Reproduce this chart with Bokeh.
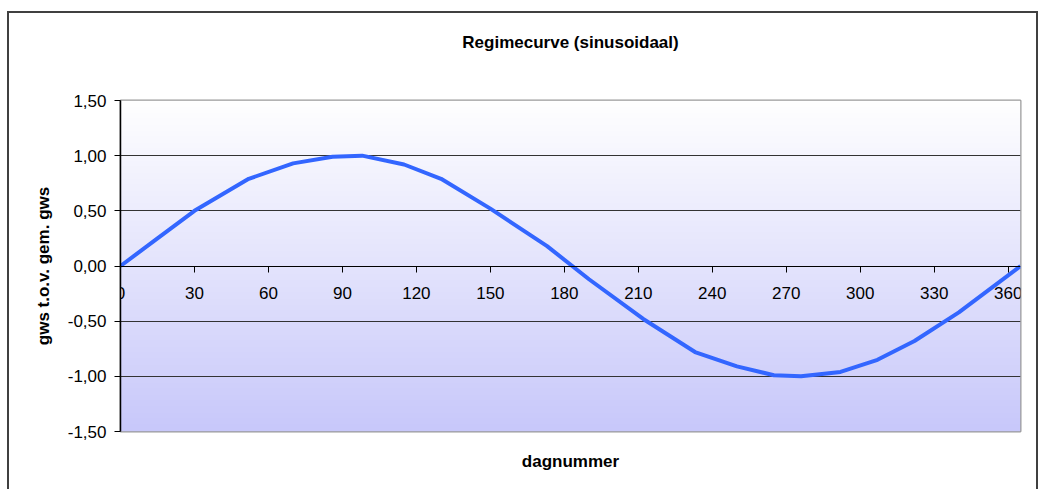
import numpy as np
from bokeh.plotting import figure
from bokeh.models import Range1d, FixedTicker, Title
from bokeh.embed import file_html
from bokeh.resources import INLINE

# ---- data ----
days = [0, 15, 30, 52, 70, 86, 98, 115, 130, 150, 173, 190, 212, 233, 250, 265, 276, 292, 307, 322, 340, 365]
gws = [0.00, 0.25, 0.50, 0.79, 0.93, 0.99, 1.00, 0.92, 0.79, 0.52, 0.18, -0.12, -0.48, -0.78, -0.91, -0.99, -1.00, -0.96, -0.85, -0.68, -0.42, 0.00]
x_ticks = [0, 30, 60, 90, 120, 150, 180, 210, 240, 270, 300, 330, 360]
y_ticks = [-1.5, -1.0, -0.5, 0.0, 0.5, 1.0, 1.5]
y_tick_labels = ["-1,50", "-1,00", "-0,50", "0,00", "0,50", "1,00", "1,50"]
title_text = "Regimecurve (sinusoidaal)"
x_label = "dagnummer"
y_label = "gws t.o.v. gem. gws"

FONT = "Liberation Sans"

p = figure(width=1027, height=476, output_backend="svg", toolbar_location=None,
           x_range=Range1d(0, 365), y_range=Range1d(-1.5, 1.5),
           min_border_left=111, min_border_right=20, min_border_top=87, min_border_bottom=60)
p.styles = {"border-left": "2px solid #404040", "border-top": "2px solid #404040",
            "border-right": "2px solid #404040", "box-sizing": "content-box"}
p.margin = (11, 0, 0, 7)
p.background_fill_color = "white"
p.border_fill_color = "white"
p.outline_line_color = "#9a9a9a"
p.outline_line_width = 2

# gradient background (white top -> lavender bottom)
n = 200
t = np.linspace(0, 1, n)  # 0 bottom, 1 top
top = np.array([255, 255, 255])
bot = np.array([200, 200, 250])
img = np.zeros((n, 1), dtype=np.uint32)
view = img.view(dtype=np.uint8).reshape((n, 1, 4))
for i in range(n):
    c = bot + (top - bot) * t[i]
    view[i, 0, 0] = int(c[0]); view[i, 0, 1] = int(c[1]); view[i, 0, 2] = int(c[2]); view[i, 0, 3] = 255
p.image_rgba(image=[img], x=0, y=-1.5, dw=365, dh=3, level="image")

# grid
p.xgrid.visible = False
p.ygrid.ticker = FixedTicker(ticks=[-1.0, -0.5, 0.5, 1.0])
p.ygrid.grid_line_color = "#333333"
p.ygrid.grid_line_width = 1

# line
p.line(days, gws, line_color="#3366ff", line_width=4, line_join="round")

# x axis at y = 0
p.xaxis.fixed_location = 0
p.xaxis.ticker = FixedTicker(ticks=x_ticks)
p.xaxis.minor_tick_line_color = None
p.xaxis.major_tick_in = 0
p.xaxis.major_tick_out = 6
p.xaxis.axis_line_color = "black"
p.xaxis.major_tick_line_color = "black"
p.xaxis.major_label_text_font = FONT
p.xaxis.major_label_text_font_size = "17px"
p.xaxis.major_label_text_color = "black"
p.xaxis.major_label_standoff = 15

# y axis
p.yaxis.ticker = FixedTicker(ticks=y_ticks)
p.yaxis.major_label_overrides = {v: s for v, s in zip(y_ticks, y_tick_labels)}
p.yaxis.minor_tick_line_color = None
p.yaxis.major_tick_in = 0
p.yaxis.major_tick_out = 6
p.yaxis.axis_line_color = "black"
p.yaxis.axis_line_width = 1.5
p.yaxis.major_tick_line_color = "black"
p.yaxis.major_label_text_font = FONT
p.yaxis.major_label_text_font_size = "17px"
p.yaxis.major_label_text_color = "black"
p.yaxis.major_label_standoff = 8
p.yaxis.axis_label = y_label
p.yaxis.axis_label_text_font = FONT
p.yaxis.axis_label_text_font_size = "17px"
p.yaxis.axis_label_text_font_style = "bold"
p.yaxis.axis_label_text_color = "black"
p.yaxis.axis_label_standoff = 12

# spacer between frame and title
p.add_layout(Title(text=" ", text_font_size="1px", standoff=46), "above")

# title
p.title.text = title_text
p.title.align = "center"
p.title.text_font = FONT
p.title.text_font_size = "17px"
p.title.text_font_style = "bold"
p.title.text_color = "black"
p.title.standoff = 0

# x label
p.add_layout(Title(text=x_label, align="center", text_font=FONT, text_font_size="17px",
                   text_font_style="bold", text_color="black", standoff=36), "below")

open("out.html", "w").write(file_html(p, INLINE))
